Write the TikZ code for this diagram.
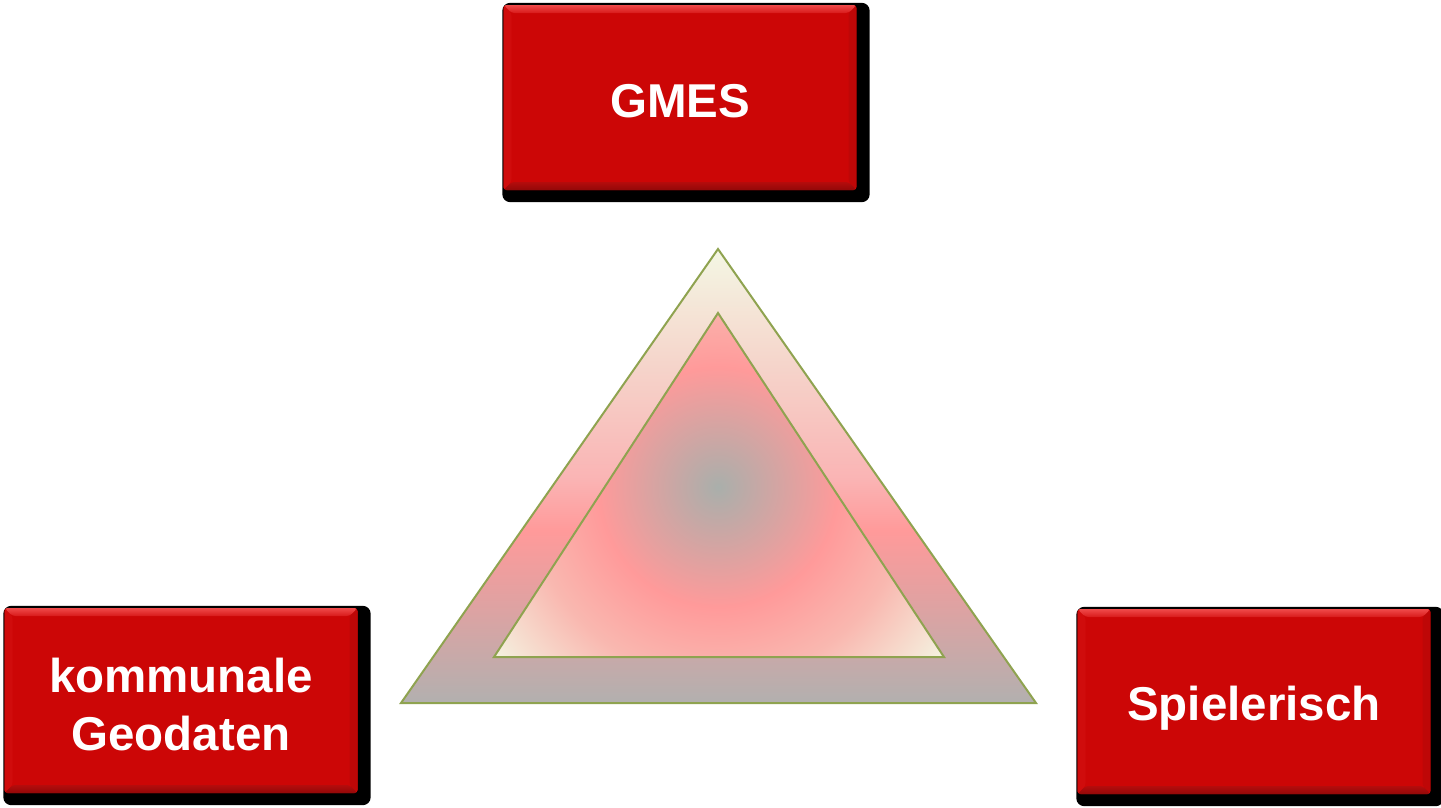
\documentclass[tikz,border=0pt]{standalone}
\usepackage{fontspec}
\setmainfont{Liberation Sans}
\usetikzlibrary{backgrounds,calc}
\definecolor{boxred}{HTML}{CC0606}
\definecolor{bevtopa}{HTML}{F04A4A}
\definecolor{bevtopb}{HTML}{D81A1A}
\definecolor{bevleft}{HTML}{D00C0C}
\definecolor{bevbota}{HTML}{B40C0C}
\definecolor{bevbotb}{HTML}{920808}
\definecolor{bevright}{HTML}{BE0707}
\definecolor{triline}{HTML}{8FA350}
\definecolor{tcream}{HTML}{F4F7E4}
\definecolor{tpink}{HTML}{FF9A9A}
\definecolor{tgrey}{HTML}{B2B0AF}
\definecolor{tcenter}{HTML}{A9AFAB}
\definecolor{tlightpink}{HTML}{F9B8B0}
\definecolor{tmidtone}{HTML}{E6A0A0}
\definecolor{tquarter}{HTML}{F5D5CB}
\definecolor{thalf}{HTML}{FAB5B5}
\pgfdeclareverticalshading{outertri}{100bp}{color(0bp)=(tgrey); color(25bp)=(tgrey); color(37.5bp)=(tmidtone); color(44bp)=(tpink); color(50bp)=(thalf); color(62.5bp)=(tquarter); color(75bp)=(tcream); color(100bp)=(tcream)}
\pgfdeclareradialshading{innerrad}{\pgfpoint{0bp}{0bp}}{color(0bp)=(tcenter); color(10bp)=(tpink); color(16bp)=(tlightpink); color(24bp)=(tcream); color(50bp)=(tcream)}
\tikzset{
  redbox/.style={rectangle, rounded corners=3pt, fill=boxred, minimum width=353pt, minimum height=185pt, inner sep=0pt,
    text=white, font=\fontsize{47.5}{58}\selectfont\bfseries, align=center, text depth=0pt,
    path picture={
      \coordinate (pnw) at (path picture bounding box.north west);
      \coordinate (pne) at (path picture bounding box.north east);
      \coordinate (psw) at (path picture bounding box.south west);
      \coordinate (pse) at (path picture bounding box.south east);
      \fill[bevleft] (pnw) -- ([xshift=8pt,yshift=-8pt]pnw) -- ([xshift=8pt,yshift=8pt]psw) -- (psw) -- cycle;
      \fill[bevright] (pne) -- ([xshift=-8pt,yshift=-8pt]pne) -- ([xshift=-8pt,yshift=8pt]pse) -- (pse) -- cycle;
      \shade[top color=bevtopa, bottom color=bevtopb] (pnw) -- (pne) -- ([xshift=-8pt,yshift=-8pt]pne) -- ([xshift=8pt,yshift=-8pt]pnw) -- cycle;
      \shade[top color=bevbota, bottom color=bevbotb] (psw) -- (pse) -- ([xshift=-8pt,yshift=8pt]pse) -- ([xshift=8pt,yshift=8pt]psw) -- cycle;
    }},
  boxshadow/.style={fill=black, rounded corners=8pt},
  triedge/.style={draw=triline, line width=2pt}
}
\begin{document}
\begin{tikzpicture}[x=1pt, y=-1pt]
\useasboundingbox (0,0) rectangle (1441,807);
% triangles
\coordinate (oa) at (718,249);
\coordinate (ol) at (401,703);
\coordinate (or) at (1036,703);
\coordinate (ia) at (718,313);
\coordinate (il) at (494,657);
\coordinate (ir) at (944,657);
\shade[shading=outertri] (oa) -- (ol) -- (or) -- cycle;
\begin{scope}
  \clip (ia) -- (il) -- (ir) -- cycle;
  \shade[shading=innerrad] (718,487) circle (300);
\end{scope}
\draw[triedge] (oa) -- (ol) -- (or) -- cycle;
\draw[triedge] (ia) -- (il) -- (ir) -- cycle;
% boxes
\node[redbox, text height=39pt] (gmes) at (680,97.5) {GMES};
\node[redbox, text height=99pt] (komm) at (181,700.5) {kommunale\\Geodaten};
\node[redbox, text height=37pt] (spiel) at (1254,701.5) {Spielerisch};
\begin{scope}[on background layer]
  \foreach \b in {gmes,komm,spiel}{
    \fill[boxshadow] ($(\b.north west)+(-1,-2)$) rectangle ($(\b.south east)+(13,12)$);
  }
\end{scope}
\end{tikzpicture}
\end{document}
